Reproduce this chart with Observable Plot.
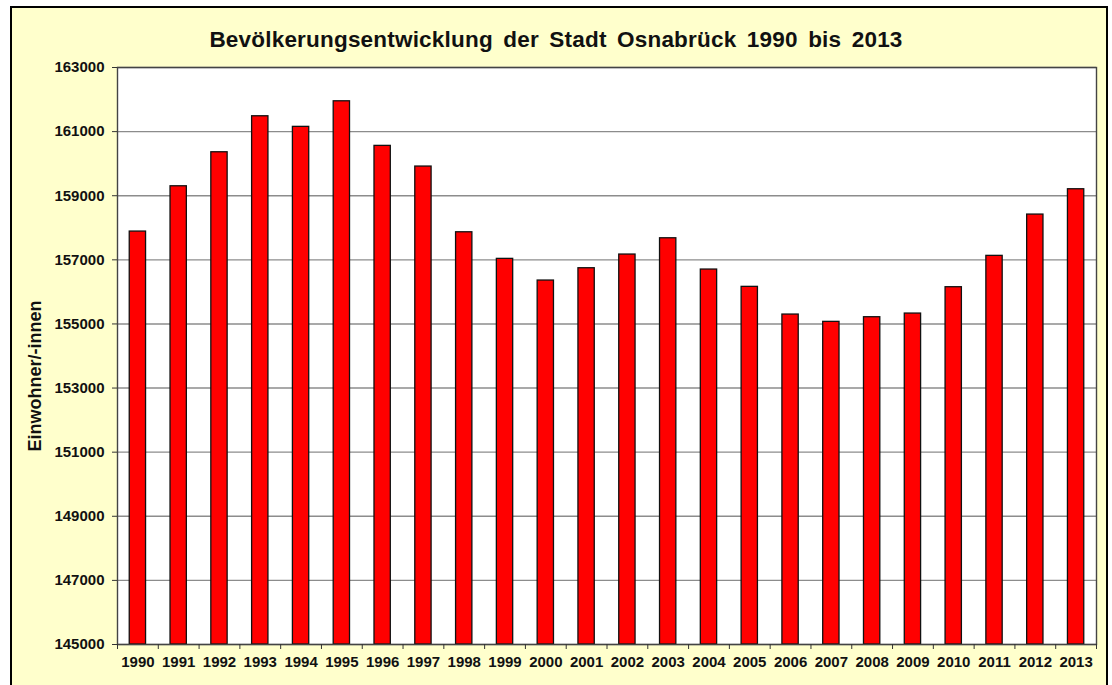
<!DOCTYPE html>
<html>
<head>
<meta charset="utf-8">
<script src="https://cdn.jsdelivr.net/npm/d3@7"></script>
<script src="https://cdn.jsdelivr.net/npm/@observablehq/plot@0.6"></script>
<style>
  html, body { margin: 0; padding: 0; background: #fff; }
  body { width: 1112px; height: 685px; position: relative; overflow: hidden; font-family: "Liberation Sans", Arial, sans-serif; }
  #box { position: absolute; left: 10px; top: 6px; width: 1094px; height: 700px; background: #FFFFCC; border: 2px solid #000; }
  #title { position: absolute; left: 0; top: 27px; width: 1112px; text-align: center; font-weight: bold; font-size: 22.5px; color: #111; word-spacing: 4px; letter-spacing: 0.2px; line-height: 26px; }
  #chart { position: absolute; left: 0; top: 0; }
  #ylabel { position: absolute; left: 35px; top: 376px; transform: translate(-50%, -50%) rotate(-90deg); font-weight: bold; font-size: 18px; color: #111; white-space: nowrap; line-height: 20px; }
</style>
</head>
<body>
<div id="box"></div>
<div id="title">Bevölkerungsentwicklung der Stadt Osnabrück 1990 bis 2013</div>
<div id="ylabel">Einwohner/-innen</div>
<div id="chart"></div>
<script>
const years = ["1990","1991","1992","1993","1994","1995","1996","1997","1998","1999","2000","2001","2002","2003","2004","2005","2006","2007","2008","2009","2010","2011","2012","2013"];
const population = [157882,159295,160356,161479,161148,161946,160555,159910,157860,157030,156354,156738,157165,157673,156697,156157,155293,155065,155210,155324,156146,157124,158412,159202];
const yTicks = [145000,147000,149000,151000,153000,155000,157000,159000,161000,163000];

const data = years.map((y, i) => ({year: y, value: population[i]}));

const W = 1112, H = 685, mL = 117, mR = 16, mT = 67, mB = 41;
const step = (W - mL - mR) / years.length;

const plot = Plot.plot({
  width: W,
  height: H,
  marginLeft: mL,
  marginRight: mR,
  marginTop: mT,
  marginBottom: mB,
  style: {background: "transparent", fontFamily: "'Liberation Sans', Arial, sans-serif", fontWeight: "bold", fontSize: "15px", color: "#111"},
  x: {domain: years, paddingInner: 0.6, paddingOuter: 0.3, round: false, label: null},
  y: {domain: [145000, 163000], label: null},
  marks: [
    Plot.frame({fill: "white", stroke: "none"}),
    Plot.gridY(yTicks, {stroke: "#8c8c8c", strokeOpacity: 1, strokeWidth: 1.4}),
    Plot.barY(data, {x: "year", y1: 145000, y2: "value", fill: "#FF0000", stroke: "#111", strokeWidth: 1.3}),
    Plot.frame({stroke: "#444", strokeWidth: 1.4}),
    Plot.axisY(yTicks, {tickSize: 5, tickPadding: 8, tickFormat: d => String(d), stroke: "#333", fontSize: 15, fontWeight: "bold"}),
    Plot.axisX({tickSize: 0, tickPadding: 12, fontSize: 15, fontWeight: "bold"}),
    Plot.axisX({tickSize: 5, text: null, dx: -step / 2, stroke: "#333"}),
    Plot.axisX({ticks: [years[years.length - 1]], tickSize: 5, text: null, dx: step / 2, stroke: "#333"})
  ]
});
document.getElementById("chart").appendChild(plot);
</script>
</body>
</html>
